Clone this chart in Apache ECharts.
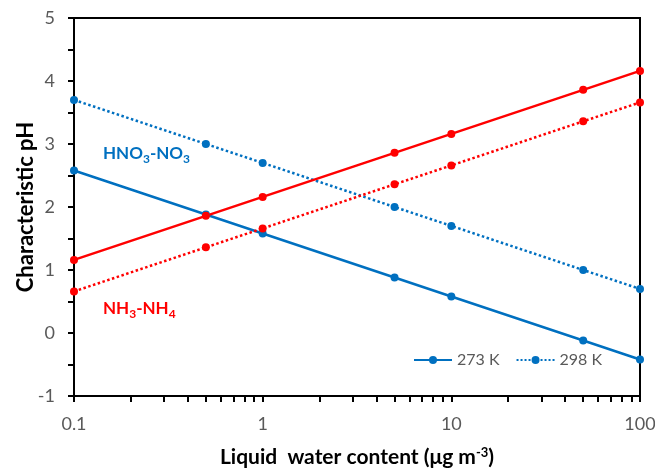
<!DOCTYPE html>
<html><head><meta charset="utf-8">
<script src="https://cdn.jsdelivr.net/npm/echarts@6/dist/echarts.min.js"></script>
<style>html,body{margin:0;padding:0;background:#fff}#c{width:655px;height:468px}</style>
</head><body><div id="c"></div>
<script>
const lwc = [0.1, 0.5, 1, 5, 10, 50, 100];
const hno3_273 = [2.58, 1.88, 1.58, 0.88, 0.58, -0.12, -0.42];
const hno3_298 = [3.70, 3.00, 2.70, 2.00, 1.70, 1.00, 0.70];
const nh3_273 = [1.16, 1.86, 2.16, 2.86, 3.16, 3.86, 4.16];
const nh3_298 = [0.66, 1.36, 1.66, 2.36, 2.66, 3.36, 3.66];
const xTicks = [0.1,0.2,0.3,0.4,0.5,0.6,0.7,0.8,0.9,1,2,3,4,5,6,7,8,9,10,20,30,40,50,60,70,80,90,100];
const xLabels = [0.1, 1, 10, 100];
const yTicks = [-1,-0.5,0,0.5,1,1.5,2,2.5,3,3.5,4,4.5,5];
const yLabels = [-1,0,1,2,3,4,5];

const BLUE = '#0070C0', RED = '#FF0000', GREY = '#595959';
const FONT = 'Lato, "Open Sans", sans-serif';
const pairs = a => lwc.map((x, i) => [x, a[i]]);

function mk(name, data, color, type) {
  return {
    name, type: 'line', data: pairs(data),
    symbol: 'circle', symbolSize: 8,
    lineStyle: { color, width: 2.5, type },
    itemStyle: { color },
    z: 3
  };
}

const chart = echarts.init(document.getElementById('c'));
chart.setOption({
  animation: false,
  textStyle: { fontFamily: FONT },
  grid: { left: 74, right: 15, top: 18, bottom: 72, show: true, borderColor: '#000', borderWidth: 2,
          containLabel: false, outerBoundsMode: 'none' },
  legend: {
    left: 408, top: 347, itemWidth: 38, itemHeight: 10, itemGap: 16,
    textStyle: { color: GREY, fontSize: 16, fontFamily: FONT },
    data: [
      { name: '273 K', itemStyle: { color: BLUE }, lineStyle: { color: BLUE, type: 'solid' } },
      { name: '298 K', itemStyle: { color: BLUE }, lineStyle: { color: BLUE, type: 'dotted' } }
    ]
  },
  xAxis: {
    type: 'log', logBase: 10, min: 0.1, max: 100,
    name: 'Liquid  water content (\u03BCg m{sup|-3})', nameLocation: 'middle', nameGap: 50, nameMoveOverlap: false,
    nameTextStyle: { fontSize: 21, fontWeight: 'bold', color: '#000', fontFamily: FONT,
      rich: { sup: { fontSize: 13, fontWeight: 'bold', verticalAlign: 'top', padding: [0,0,10,0], color: '#000' } } },
    axisLine: { onZero: false, lineStyle: { color: '#000', width: 2 } },
    axisTick: { show: true, length: 6, inside: false, lineStyle: { color: '#000', width: 2 }, customValues: xTicks },
    axisLabel: { color: GREY, fontSize: 18, margin: 19, customValues: xLabels, fontFamily: FONT },
    splitLine: { show: false }, minorTick: { show: false }
  },
  yAxis: {
    type: 'value', min: -1, max: 5, interval: 1,
    name: 'Characteristic pH', nameLocation: 'middle', nameGap: 37, nameRotate: 90, nameMoveOverlap: false,
    nameTextStyle: { fontSize: 22, fontWeight: 'bold', color: '#000', fontFamily: FONT },
    axisLine: { show: true, onZero: false, lineStyle: { color: '#000', width: 2 } },
    axisTick: { show: true, length: 6, lineStyle: { color: '#000', width: 2 }, customValues: yTicks },
    axisLabel: { color: GREY, fontSize: 18, margin: 19, customValues: yLabels, fontFamily: FONT },
    splitLine: { show: false }
  },
  series: [
    mk('273 K', hno3_273, BLUE, 'solid'),
    mk('298 K', hno3_298, BLUE, 'dotted'),
    mk('NH3 273 K', nh3_273, RED, 'solid'),
    mk('NH3 298 K', nh3_298, RED, 'dotted')
  ],
  graphic: [
    { type: 'text', left: 103, top: 145, style: {
      text: '{m|HNO}{s|3}{m|-NO}{s|3}', fill: BLUE,
      rich: { m: { fontSize: 17, fontWeight: 'bold', fill: BLUE, fontFamily: FONT },
              s: { fontSize: 12, fontWeight: 'bold', fill: BLUE, fontFamily: FONT, padding: [11,0,0,0] } } } },
    { type: 'text', left: 103, top: 300, style: {
      text: '{m|NH}{s|3}{m|-NH}{s|4}', fill: RED,
      rich: { m: { fontSize: 17, fontWeight: 'bold', fill: RED, fontFamily: FONT },
              s: { fontSize: 12, fontWeight: 'bold', fill: RED, fontFamily: FONT, padding: [11,0,0,0] } } } }
  ]
});
</script></body></html>
